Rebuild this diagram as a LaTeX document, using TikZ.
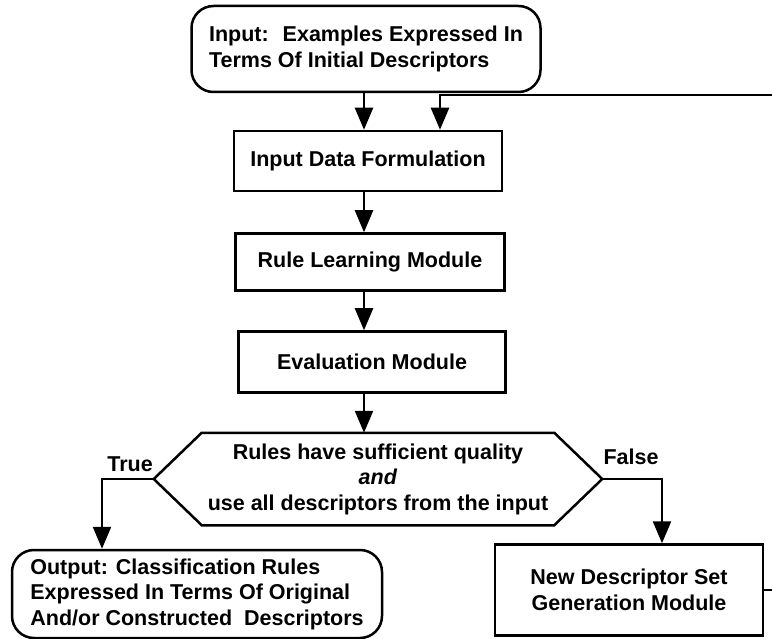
\documentclass[tikz,border=0pt]{standalone}
\usepackage{fontspec}
\setmainfont{Liberation Sans}
\usetikzlibrary{arrows.meta}

\begin{document}
\begin{tikzpicture}[x=1pt, y=-1pt,
    flow/.style={line width=2.5pt, -{Triangle[width=18pt,length=22pt]}},
    txt/.style={font=\bfseries\fontsize{21.5}{25.5}\selectfont},
    box/.style={txt, draw, line width=2.5pt, align=center, inner sep=0pt},
    term/.style={box, rounded corners=22pt, align=left}
]
    \useasboundingbox (0,0) rectangle (772,639);

    % main column
    \node[term, minimum width=349pt, minimum height=86pt] (inp) at (366,49)
        {Input:~ Examples Expressed In\\Terms Of Initial Descriptors};
    \node[box, minimum width=268pt, minimum height=60pt] (idf) at (368,161)
        {Input Data Formulation};
    \node[box, minimum width=269pt, minimum height=57pt] (rlm) at (370,262)
        {Rule Learning Module};
    \node[box, minimum width=267pt, minimum height=61pt] (evm) at (372,362)
        {Evaluation Module};

    % the test
    \node[box, draw=none, minimum width=350pt, minimum height=90pt] (qual) at (378,479)
        {Rules have sufficient quality\\\textit{and}\\use all descriptors from the input};
    \coordinate (qw) at ([xshift=-48pt]qual.west);
    \coordinate (qe) at ([xshift=48pt]qual.east);
    \draw[line width=2.5pt] (qual.north west) -- (qual.north east) -- (qe)
        -- (qual.south east) -- (qual.south west) -- (qw) -- cycle;

    % outcomes
    \node[term, minimum width=370pt, minimum height=88pt] (out) at (197,594)
        {Output: Classification Rules\\Expressed In Terms Of Original\\And/or Constructed~ Descriptors};
    \node[box, minimum width=268pt, minimum height=91pt] (nds) at (629,590)
        {New Descriptor Set\\Generation Module};

    \node[txt] (tlab) at (130,464) {True};
    \node[txt] (flab) at (631,457) {False};

    \coordinate (ax) at (364,0);
    \coordinate (tx) at (102,0);
    \coordinate (fx) at (662,0);
    \coordinate (rim) at (775,0);
    \coordinate (loop) at (440,95);

    \draw[flow] (inp.south -| ax) -- (idf.north -| ax);
    \draw[flow] (idf.south -| ax) -- (rlm.north -| ax);
    \draw[flow] (rlm.south -| ax) -- (evm.north -| ax);
    \draw[flow] (evm.south -| ax) -- (qual.north -| ax);

    \draw[flow] (qw) -| (out.north -| tx);
    \draw[flow] (qe) -| (nds.north -| fx);

    % back to the input
    \draw[flow] (nds.east) -- (nds.east -| rim) -- (rim |- loop) -- (loop)
        -- (loop |- idf.north);
\end{tikzpicture}
\end{document}
